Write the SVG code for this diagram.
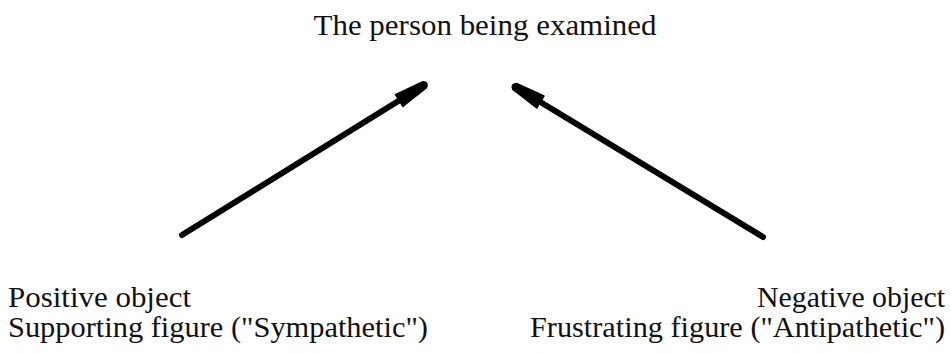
<svg xmlns="http://www.w3.org/2000/svg" width="951" height="353" viewBox="0 0 951 353">
<style>
.t{font-family:'Liberation Serif','DejaVu Serif',serif;font-size:29px;fill:#111}
.c{stroke:#000;stroke-width:6;stroke-linecap:round;fill:none}
</style>
<defs>
<marker id="ah" markerUnits="userSpaceOnUse" markerWidth="40" markerHeight="20" viewBox="-2 -10 40 20" refX="0" refY="0" orient="auto">
<path d="M-1,-7 L29,-3.5 Q34,0 29,3.5 L-1,7 Z" fill="#000" stroke="#000" stroke-width="1.5" stroke-linejoin="round"/>
</marker>
</defs>
<rect width="951" height="353" fill="#fff"/>
<g id="top"><text class="t" font-family="Liberation Serif, DejaVu Serif, serif" x="485" y="35" text-anchor="middle" textLength="343" lengthAdjust="spacingAndGlyphs">The person being examined</text></g>
<g id="positive"><text class="t" font-family="Liberation Serif, DejaVu Serif, serif" x="8" y="307" textLength="183" lengthAdjust="spacingAndGlyphs">Positive object</text><text class="t" font-family="Liberation Serif, DejaVu Serif, serif" x="8" y="337" textLength="420" lengthAdjust="spacingAndGlyphs">Supporting figure ("Sympathetic")</text></g>
<g id="negative"><text class="t" font-family="Liberation Serif, DejaVu Serif, serif" x="945" y="307" text-anchor="end" textLength="188" lengthAdjust="spacingAndGlyphs">Negative object</text><text class="t" font-family="Liberation Serif, DejaVu Serif, serif" x="945" y="337" text-anchor="end" textLength="415" lengthAdjust="spacingAndGlyphs">Frustrating figure ("Antipathetic")</text></g>
<g id="connectors">
<line class="c" x1="182" y1="235" x2="400" y2="100" marker-end="url(#ah)"/>
<line class="c" x1="763" y1="237" x2="539.5" y2="101.5" marker-end="url(#ah)"/>
</g>
</svg>
